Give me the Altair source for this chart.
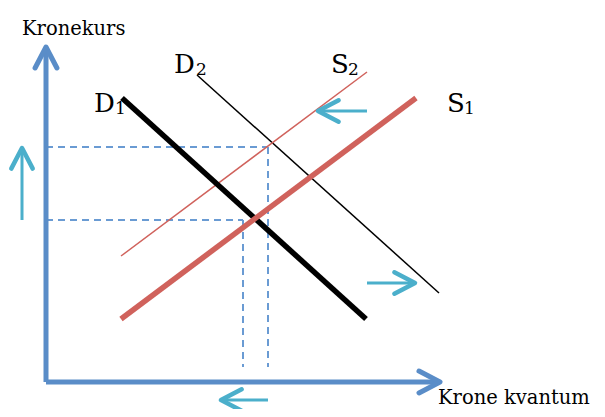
import altair as alt
import pandas as pd

# ---- data (quantity / exchange-rate units, origin at the axes corner) ----
curve_names = ["D1", "D2", "S1", "S2"]
curve_q0 = [76, 151, 75, 75]
curve_p0 = [284, 307, 63, 126]
curve_q1 = [320, 393, 370, 321]
curve_p1 = [63, 89, 284, 310]

# dashed guide lines (equilibrium read-offs)
guide_q0 = [0, 222, 0, 197]
guide_p0 = [235, 235, 162, 162]
guide_q1 = [222, 222, 197, 197]
guide_p1 = [235, 15, 162, 15]

# axes (start -> arrow tip)
axis_q0 = [0, 0]
axis_p0 = [0, 0]
axis_q1 = [0, 394]
axis_p1 = [335, 0]
axis_dir = [270, 0]

# shift arrows (tail -> tip)
shift_q0 = [-24, 321, 321, 222]
shift_p0 = [162, 271, 99, -18]
shift_q1 = [-24, 272, 369, 175]
shift_p1 = [234, 271, 99, -18]
shift_dir = [270, 180, 0, 180]

# curve labels: letter + subscript
lab_letter = ["D", "D", "S", "S"]
lab_sub = ["1", "2", "2", "1"]
lab_q = [48, 128, 285, 401]
lab_p = [270, 309, 309, 270]
lab_sub_q = [69, 150, 302, 418]
lab_sub_p = [268, 307, 307, 268]

axis_titles = ["Kronekurs", "Krone kvantum"]
axis_title_q = [-24, 392]
axis_title_p = [347, -22]

# ---- frames ----
curves = pd.DataFrame({"name": curve_names, "q": curve_q0, "p": curve_p0,
                       "q2": curve_q1, "p2": curve_p1})
guides = pd.DataFrame({"q": guide_q0, "p": guide_p0, "q2": guide_q1, "p2": guide_p1})
axes_df = pd.DataFrame({"q": axis_q0, "p": axis_p0, "q2": axis_q1, "p2": axis_p1,
                        "dir": axis_dir})
shifts = pd.DataFrame({"q": shift_q0, "p": shift_p0, "q2": shift_q1, "p2": shift_p1,
                       "dir": shift_dir})
labels = pd.DataFrame({"letter": lab_letter, "sub": lab_sub, "q": lab_q, "p": lab_p,
                       "sq": lab_sub_q, "sp": lab_sub_p})
titles = pd.DataFrame({"t": axis_titles, "q": axis_title_q, "p": axis_title_p})

xs = alt.Scale(domain=[-38, 551], nice=False, zero=False)
ys = alt.Scale(domain=[-27, 374], nice=False, zero=False)


def X(f):
    return alt.X(f + ":Q", scale=xs, axis=None)


def Y(f):
    return alt.Y(f + ":Q", scale=ys, axis=None)


def seg(df, **mk):
    return alt.Chart(df).mark_rule(**mk).encode(x=X("q"), y=Y("p"), x2="q2", y2="p2")


chev = "M-1,-0.52L0,0L-1,0.52"

blue = "#5A8DC8"
dash_blue = "#6A9BD3"
cyan = "#4BAFCB"
red = "#D0625C"

layers = [
    seg(guides, color=dash_blue, strokeWidth=2, strokeDash=[7, 5]),
    seg(curves[curves.name == "D2"], color="black", strokeWidth=1.5),
    seg(curves[curves.name == "S2"], color=red, strokeWidth=1.5),
    seg(curves[curves.name == "D1"], color="black", strokeWidth=5.5),
    seg(curves[curves.name == "S1"], color=red, strokeWidth=5.5),
    seg(axes_df, color=blue, strokeWidth=5),
    alt.Chart(axes_df).mark_point(shape=chev, filled=False, color=blue, strokeWidth=5,
                                  size=1764, opacity=1, strokeCap="round", strokeJoin="round")
    .encode(x=X("q2"), y=Y("p2"), angle=alt.Angle("dir:Q", scale=None)),
    seg(shifts, color=cyan, strokeWidth=3),
    alt.Chart(shifts).mark_point(shape=chev, filled=False, color=cyan, strokeWidth=4.5,
                                 size=1700, opacity=1, strokeCap="round", strokeJoin="round")
    .encode(x=X("q2"), y=Y("p2"), angle=alt.Angle("dir:Q", scale=None)),
    alt.Chart(labels).mark_text(font="DejaVu Serif", fontSize=26, align="left",
                                baseline="alphabetic", color="black")
    .encode(x=X("q"), y=Y("p"), text="letter:N"),
    alt.Chart(labels).mark_text(font="DejaVu Serif", fontSize=17, align="left",
                                baseline="alphabetic", color="black")
    .encode(x=X("sq"), y=Y("sp"), text="sub:N"),
    alt.Chart(titles).mark_text(font="DejaVu Serif", fontSize=19.5, align="left",
                                baseline="alphabetic", color="black")
    .encode(x=X("q"), y=Y("p"), text="t:N"),
]

chart = alt.layer(*layers).properties(
    width=589, height=401, padding=0,
    autosize=alt.AutoSizeParams(type="none"),
).configure_view(stroke=None)

chart.save("out.html", embed_options={"renderer": "svg", "actions": False})
